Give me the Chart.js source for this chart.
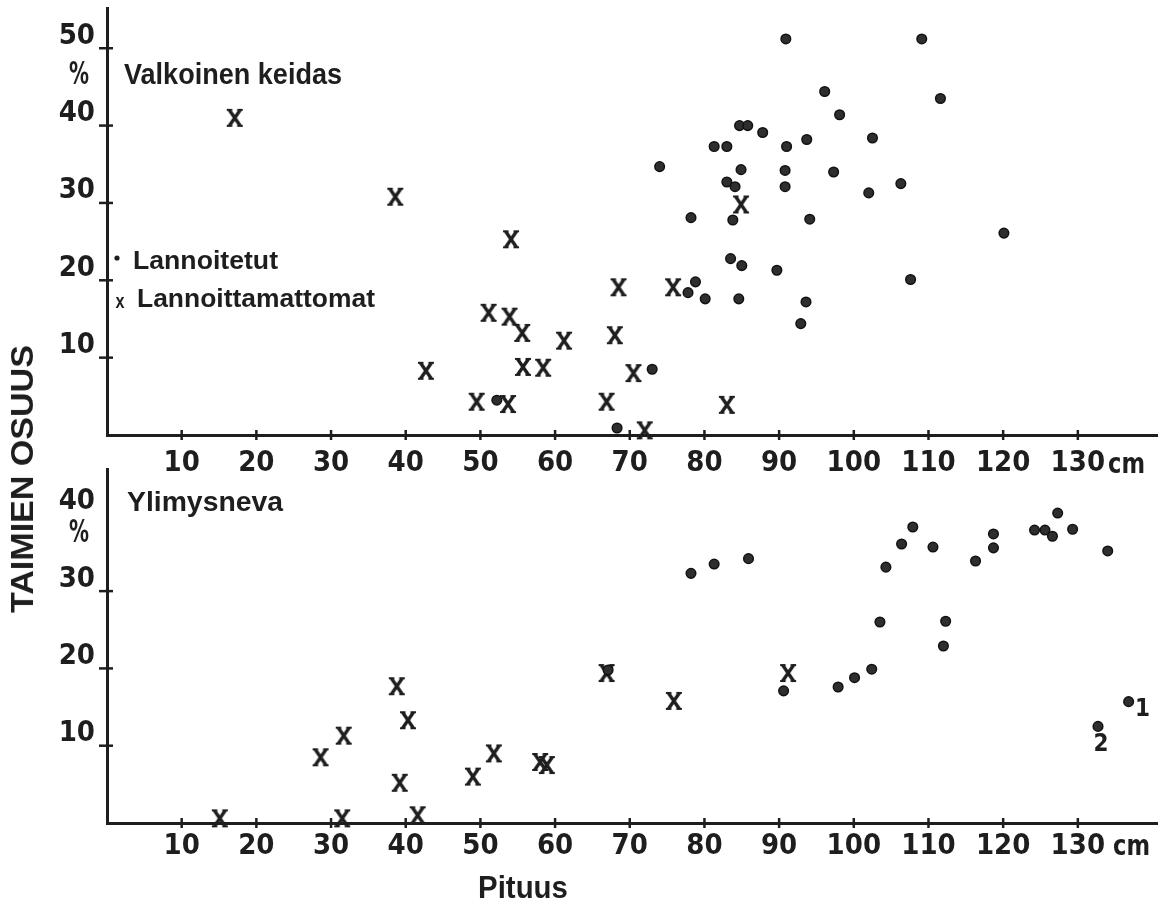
<!DOCTYPE html>
<html>
<head>
<meta charset="utf-8">
<script src="https://cdn.jsdelivr.net/npm/chart.js@4.4.1/dist/chart.umd.min.js"></script>
<style>
  html, body { margin: 0; padding: 0; background: #fff; }
  #wrap { position: relative; width: 1164px; height: 905px; overflow: hidden; }
  canvas { position: absolute; left: 0; }
  #c1 { top: 0; }
  #c2 { top: 460px; }
  .lbl { position: absolute; font-family: 'Liberation Sans', Arial, sans-serif; font-weight: bold;
         color: #1e1e1e; white-space: nowrap; line-height: 1; font-size: 32px; }
</style>
</head>
<body>
<div id="wrap">
  <canvas id="c1" width="1164" height="490" style="width:1164px;height:490px"></canvas>
  <canvas id="c2" width="1164" height="445" style="width:1164px;height:445px"></canvas>
  <div class="lbl" id="ytitle">TAIMIEN OSUUS</div>
  <div class="lbl" id="xtitle">Pituus</div>
</div>
<script>
// Valkoinen keidas: [pituus cm, osuus %]
const valkoinenLannoitetut = [
  [52.2, 4.5], [68.3, 0.9], [73.0, 8.5], [74.0, 34.7], [78.2, 28.1], [77.8, 18.4], [78.8, 19.8],
  [80.1, 17.6], [81.3, 37.3], [83.0, 37.3], [84.7, 40.0], [85.8, 40.0], [87.8, 39.1], [84.9, 34.3],
  [83.0, 32.7], [84.1, 32.1], [83.8, 27.8], [83.5, 22.8], [85.0, 21.9], [84.6, 17.6], [89.7, 21.3],
  [90.9, 51.2], [91.0, 37.3], [90.8, 34.2], [90.8, 32.1], [93.7, 38.2], [97.3, 34.0], [94.1, 27.9],
  [93.6, 17.2], [92.9, 14.4], [96.1, 44.4], [98.1, 41.4], [102.5, 38.4], [102.0, 31.3], [106.3, 32.5],
  [107.6, 20.1], [109.1, 51.2], [111.6, 43.5], [120.1, 26.1]
];
const valkoinenLannoittamattomat = [
  [17.1, 41.0], [38.6, 30.8], [54.1, 25.3], [42.7, 8.3], [51.1, 15.8], [53.9, 15.3], [55.6, 13.2],
  [61.2, 12.2], [55.7, 8.8], [58.4, 8.7], [49.5, 4.3], [53.7, 4.0], [66.9, 4.3], [68.0, 12.9],
  [68.5, 19.1], [70.5, 8.0], [72.0, 0.6], [75.8, 19.1], [83.0, 3.9], [84.9, 29.8]
];

// Ylimysneva
const ylimysLannoitetut = [
  [67.1, 19.8], [78.2, 32.3], [81.3, 33.5], [85.9, 34.2], [90.6, 17.1], [97.9, 17.6], [100.1, 18.8],
  [102.4, 19.9], [103.5, 26.0], [104.3, 33.1], [106.4, 36.1], [107.9, 38.3], [110.6, 35.7],
  [112.3, 26.1], [112.0, 22.9], [116.3, 33.9], [118.7, 35.6], [118.7, 37.4], [124.2, 37.9],
  [125.6, 37.9], [126.6, 37.1], [127.3, 40.1], [129.3, 38.0], [134.0, 35.2], [132.7, 12.5], [136.8, 15.7]
];
const ylimysLannoittamattomat = [
  [15.1, 0.6], [28.6, 8.5], [31.7, 11.3], [31.5, 0.6], [38.8, 17.7], [40.3, 13.3], [39.2, 5.2],
  [41.6, 1.0], [49.0, 6.0], [51.8, 9.0], [58.0, 7.9], [58.9, 7.5], [66.9, 19.4], [75.9, 15.8], [91.2, 19.4]
];
const numeroidut = [["1", 136.8, 15.7], ["2", 132.7, 12.5]];

const xTicks = [10, 20, 30, 40, 50, 60, 70, 80, 90, 100, 110, 120, 130];
const yTicksTop = [10, 20, 30, 40, 50];
const yTicksBottom = [10, 20, 30, 40];

const ink = '#1e1e1e';
const tickFont = "'Liberation Sans Narrow', 'DejaVu Sans Condensed', 'Liberation Sans', sans-serif";

// X-merkki kuvana (paksu X pienillä päätteillä)
function makeX() {
  const c = document.createElement('canvas');
  c.width = 18; c.height = 20;
  const g = c.getContext('2d');
  g.strokeStyle = ink;
  g.lineCap = 'butt';
  g.lineWidth = 3.4;
  g.beginPath();
  g.moveTo(3.5, 2); g.lineTo(14.5, 18);
  g.moveTo(14.5, 2); g.lineTo(3.5, 18);
  g.stroke();
  g.lineWidth = 2;
  g.beginPath();
  g.moveTo(1, 2); g.lineTo(6.5, 2);
  g.moveTo(11.5, 2); g.lineTo(17, 2);
  g.moveTo(1, 18); g.lineTo(6.5, 18);
  g.moveTo(11.5, 18); g.lineTo(17, 18);
  g.stroke();
  return c;
}
const xMark = makeX();

function fitText(ctx, text, x, y, size, width, align, family) {
  ctx.save();
  ctx.font = `bold ${size}px ${family || "'Liberation Sans', Arial, sans-serif"}`;
  ctx.fillStyle = ink;
  ctx.textBaseline = 'middle';
  const w = ctx.measureText(text).width;
  ctx.translate(x, y);
  ctx.scale(width ? width / w : 1, 1);
  ctx.textAlign = align || 'left';
  ctx.fillText(text, 0, 0);
  ctx.restore();
}

const axisMarks = {
  id: 'axisMarks',
  afterDraw(chart) {
    const { ctx, chartArea: a, scales: { x, y } } = chart;
    ctx.save();
    ctx.strokeStyle = ink;
    ctx.lineWidth = 2.5;
    x.ticks.forEach(t => {
      const px = x.getPixelForValue(t.value);
      ctx.beginPath(); ctx.moveTo(px, a.bottom - 5); ctx.lineTo(px, a.bottom + 5); ctx.stroke();
    });
    y.ticks.forEach(t => {
      if (t.value > chart.options.markMax) return;
      const py = y.getPixelForValue(t.value);
      ctx.beginPath(); ctx.moveTo(a.left - 8, py); ctx.lineTo(a.left + 6, py); ctx.stroke();
    });
    ctx.restore();
  }
};

function noPadding(s) {
  s.paddingTop = 0; s.paddingBottom = 0; s.paddingLeft = 0; s.paddingRight = 0;
}

function panel(id, fert, unfert, yMax, yTicks, markMax, padTop, xHeight, labelPad, notes) {
  return new Chart(document.getElementById(id), {
    type: 'scatter',
    data: {
      datasets: [
        {
          label: 'Lannoitetut',
          data: fert.map(p => ({ x: p[0], y: p[1] })),
          pointStyle: 'circle', pointRadius: 4.8,
          backgroundColor: '#2e2e2e', borderColor: '#111', borderWidth: 1.5, clip: false
        },
        {
          label: 'Lannoittamattomat',
          data: unfert.map(p => ({ x: p[0], y: p[1] })),
          pointStyle: xMark, pointRadius: 8, clip: false
        }
      ]
    },
    options: {
      responsive: false,
      animation: false,
      markMax,
      layout: { autoPadding: false, padding: { top: padTop, right: 7, left: 0, bottom: 0 } },
      plugins: { legend: { display: false }, tooltip: { enabled: false } },
      events: [],
      scales: {
        x: {
          type: 'linear', min: 0, max: 140.6,
          afterBuildTicks: s => { s.ticks = xTicks.map(v => ({ value: v })); },
          afterFit: s => { s.height = xHeight; noPadding(s); },
          grid: { display: false, drawTicks: false },
          border: { display: true, color: ink, width: 3 },
          ticks: { color: ink, padding: labelPad, font: { family: tickFont, weight: 'bold', size: 29 } }
        },
        y: {
          type: 'linear', min: 0, max: yMax,
          afterBuildTicks: s => { s.ticks = yTicks.map(v => ({ value: v })); },
          afterFit: s => { s.width = 107; noPadding(s); },
          grid: { display: false, drawTicks: false },
          border: { display: true, color: ink, width: 3 },
          ticks: { color: ink, padding: 12, labelOffset: -12, font: { family: tickFont, weight: 'bold', size: 29 } }
        }
      }
    },
    plugins: [axisMarks, { id: 'notes', afterDraw: notes }]
  });
}

panel('c1', valkoinenLannoitetut, valkoinenLannoittamattomat, 55.2, yTicksTop, 50, 8, 55, 11, chart => {
  const ctx = chart.ctx;
  fitText(ctx, 'Valkoinen keidas', 124, 76, 30, 218);
  fitText(ctx, '%', 79, 76, 32, 20, 'center', tickFont);
  ctx.save(); ctx.fillStyle = ink; ctx.beginPath(); ctx.arc(117, 258, 2.6, 0, Math.PI * 2); ctx.fill(); ctx.restore();
  fitText(ctx, 'Lannoitetut', 133, 262, 25, 145);
  fitText(ctx, 'x', 120, 302, 20, 9, 'center');
  fitText(ctx, 'Lannoittamattomat', 137, 300, 25, 238);
  fitText(ctx, 'cm', 1108, 465, 29, 37, 'left', tickFont);
});

panel('c2', ylimysLannoitetut, ylimysLannoittamattomat, 45.8, yTicksBottom, 30, 9, 82, 6, chart => {
  const { ctx, scales: { x, y } } = chart;
  fitText(ctx, 'Ylimysneva', 127, 43, 28, 156);
  fitText(ctx, '%', 79, 74, 32, 20, 'center', tickFont);
  fitText(ctx, 'cm', 1113, 387, 29, 37, 'left', tickFont);
  const offs = { '1': [14, 8], '2': [3, 18] };
  numeroidut.forEach(([t, vx, vy]) => {
    fitText(ctx, t, x.getPixelForValue(vx) + offs[t][0], y.getPixelForValue(vy) + offs[t][1], 24, 0, 'center', tickFont);
  });
});

// yhteiset akselien otsikot
function placeLabel(id, cx, cy, width, rotate) {
  const el = document.getElementById(id);
  const sx = width / el.offsetWidth;
  el.style.left = cx + 'px';
  el.style.top = cy + 'px';
  el.style.transform = `translate(-50%, -50%) ${rotate ? 'rotate(-90deg)' : ''} scaleX(${sx})`;
}
placeLabel('ytitle', 22, 479, 268, true);
placeLabel('xtitle', 523, 887, 90, false);
</script>
</body>
</html>
